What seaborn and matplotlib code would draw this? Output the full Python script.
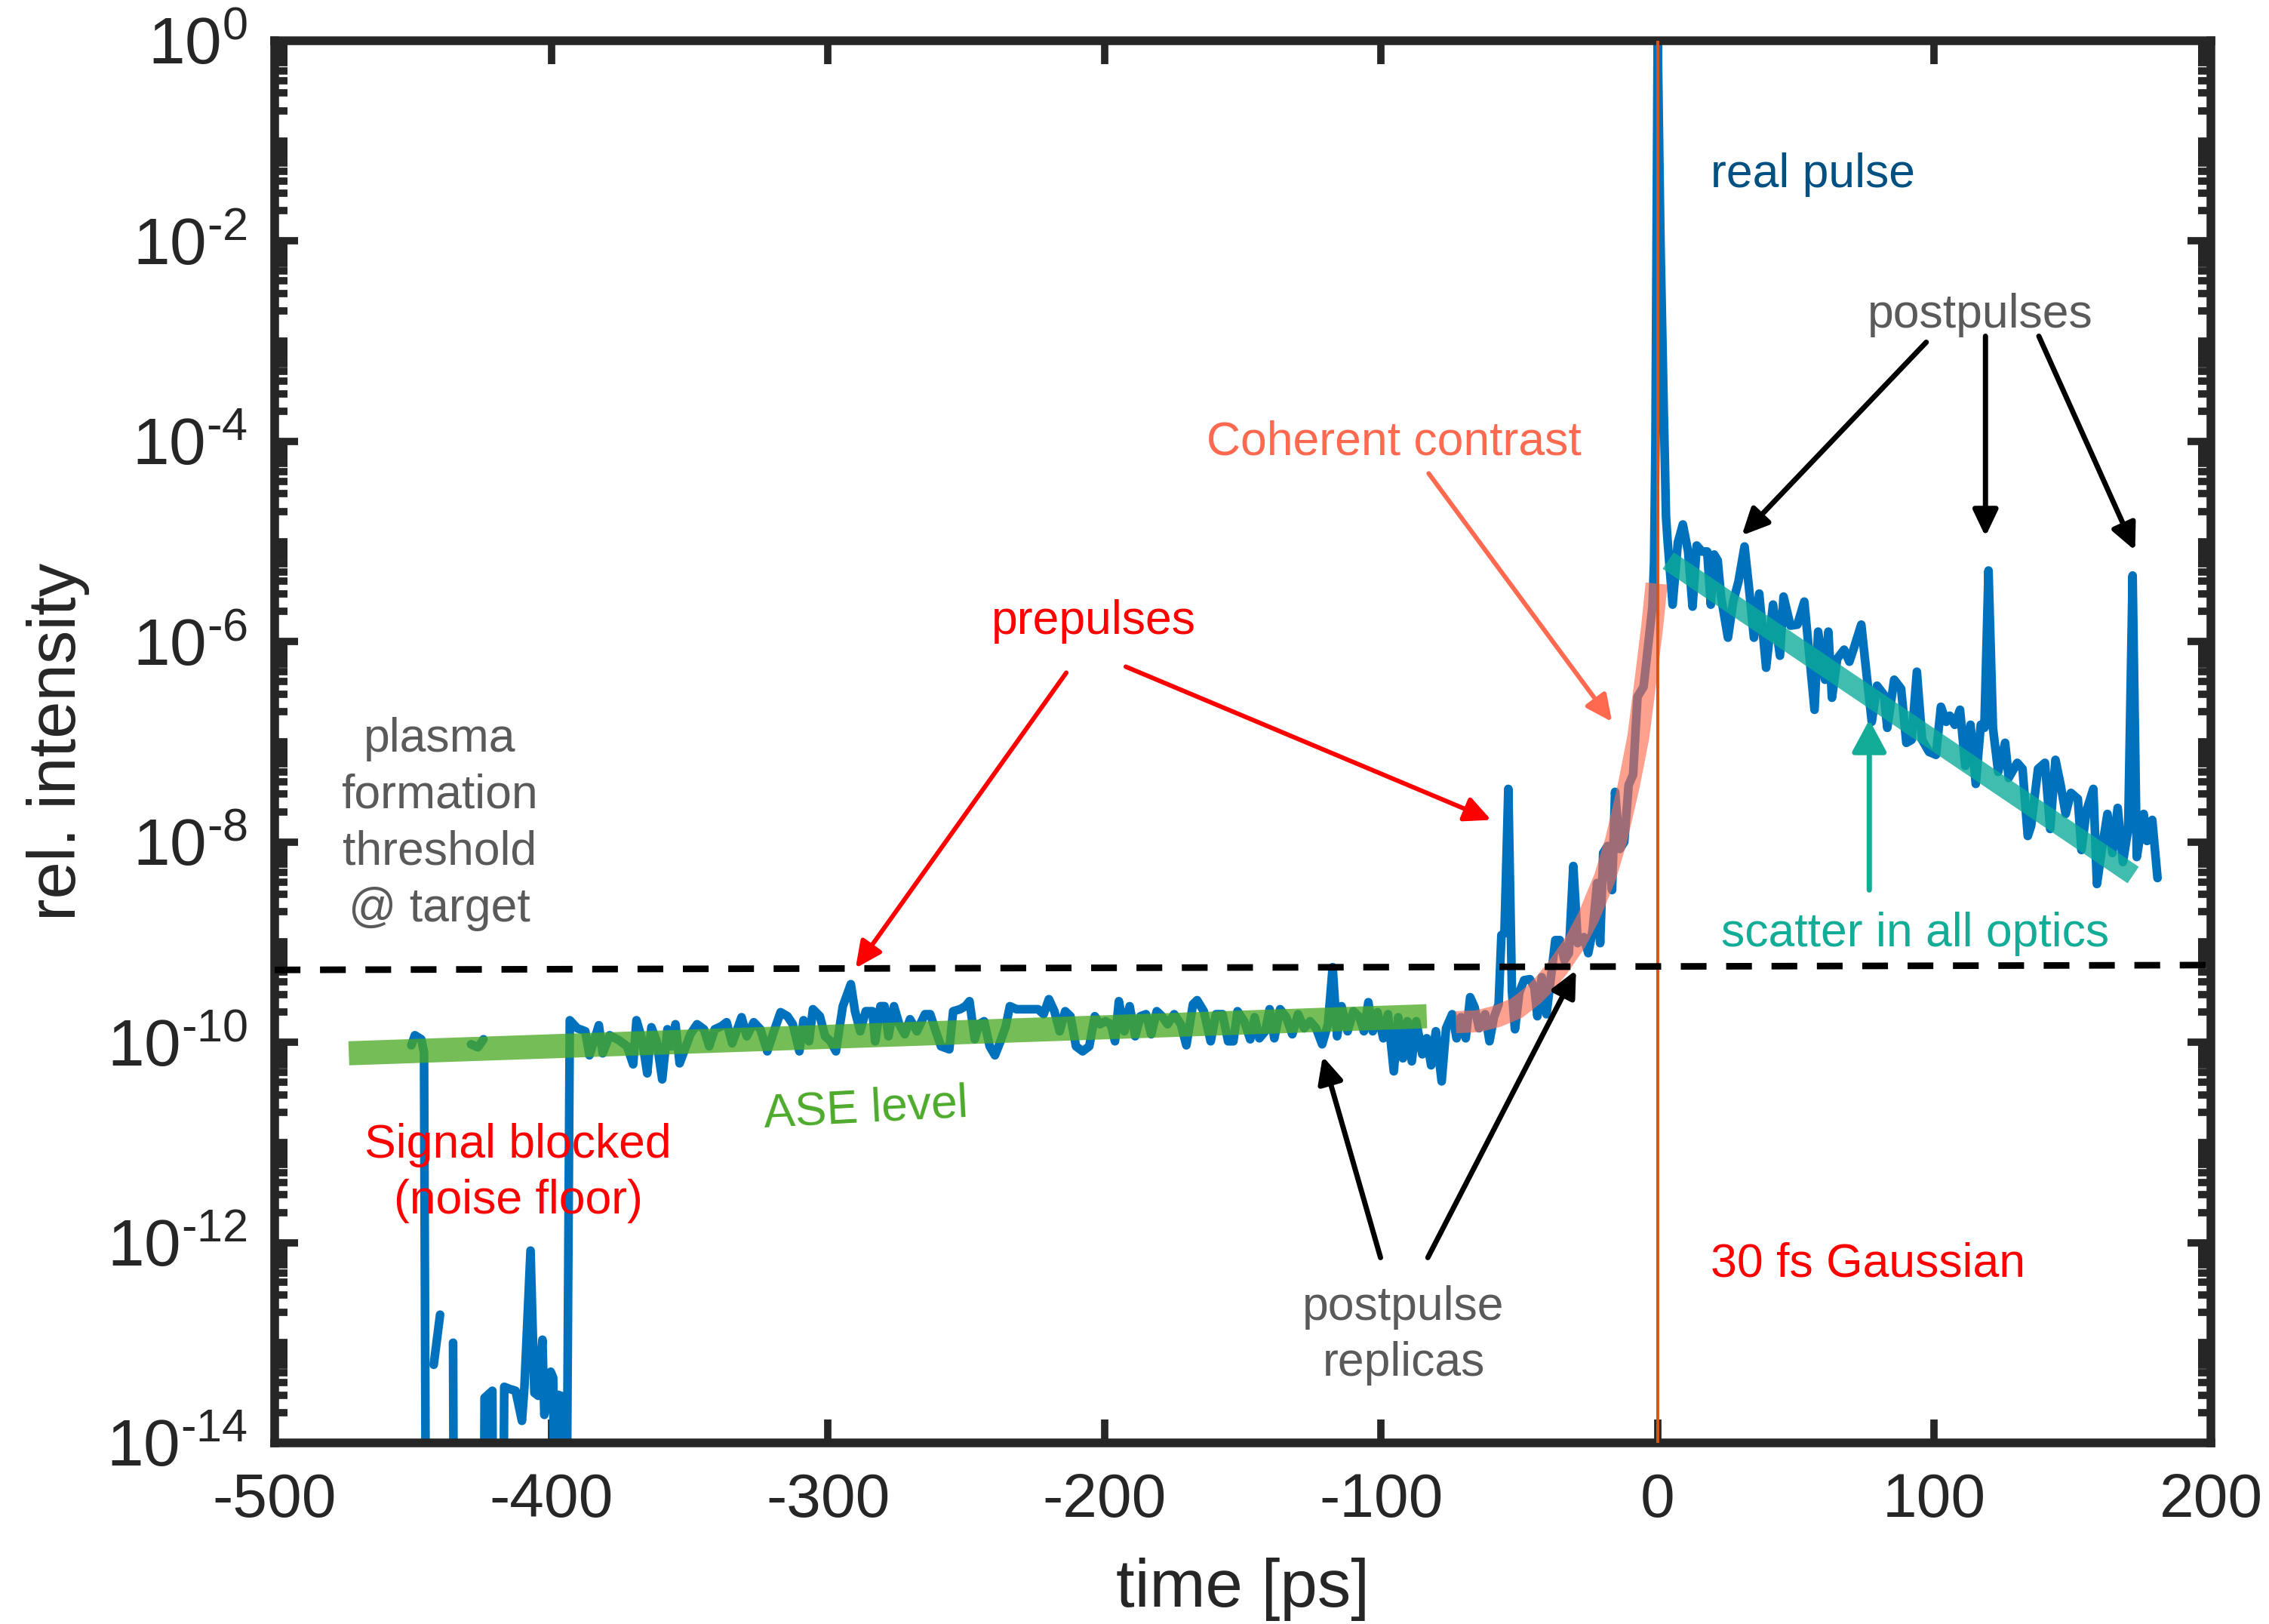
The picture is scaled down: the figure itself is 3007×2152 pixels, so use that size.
import numpy as np
import pandas as pd
import matplotlib
matplotlib.use("Agg")
import matplotlib.pyplot as plt
import seaborn as sns
from matplotlib.ticker import FixedLocator, NullFormatter, NullLocator

# ---------------- data ----------------
# measured trace: time [ps] and log10(rel. intensity); -16 = below plotted range
start_t = [-450.6, -449.3, -447.0, -446.0, -445.2]
start_lg = [-10.03, -9.93, -9.97, -10.10, -16.0]

floor_a_t = [-442.5, -440.2]
floor_a_lg = [-13.22, -12.72]
floor_b_t = [-435.5, -435.1]
floor_b_lg = [-13.00, -16.0]
islet_t = [-429.0, -426.5, -424.5]
islet_lg = [-10.02, -10.05, -9.97]
floor_c_t = [-424.6, -424.1, -421.3, -420.9]
floor_c_lg = [-16.0, -13.55, -13.48, -16.0]

floor_d_t = [-417.6, -417.0, -415.2, -412.9, -410.6, -409.7, -407.5, -406.1, -404.7,
             -403.2, -402.5, -400.2, -399.3, -398.5, -397.5, -396.5, -394.7]
floor_d_lg = [-16.0, -13.44, -13.46, -13.48, -13.78, -13.44, -12.08, -13.50, -13.53,
              -12.97, -13.72, -13.29, -13.35, -16.0, -13.52, -13.53, -16.0]

ase_a_t = [-393.3, -390.6, -387.7, -386.2, -382.8, -381.4, -378.9, -375.5, -372.6, -370.4,
           -369.2, -367.2, -365.3, -363.8, -361.9, -359.9, -358.0, -356.5, -355.1, -353.6,
           -351.7, -349.7, -347.3, -344.8, -342.9, -340.9, -338.5, -336.6, -334.6, -331.2,
           -329.3, -326.8, -324.4, -321.9, -319.5, -317.1, -314.6, -312.7, -310.3, -308.8,
           -306.8, -305.4, -302.9, -301.0]
ase_a_lg = [-9.78, -9.86, -9.89, -10.13, -9.83, -10.11, -9.93, -9.98, -10.04, -10.22,
            -9.78, -9.97, -10.31, -9.85, -9.99, -10.37, -9.87, -10.04, -9.82, -10.21,
            -10.07, -9.92, -9.82, -9.87, -10.04, -9.87, -9.84, -9.80, -10.01, -9.75,
            -9.94, -9.80, -9.87, -10.09, -9.89, -9.70, -9.74, -9.82, -10.09, -9.78,
            -9.99, -9.67, -9.74, -9.94]

ase_b_t = [-299.0, -297.1, -294.6, -291.7, -290.2, -288.3, -286.3, -283.9, -282.9, -281.0,
           -279.5, -278.1, -276.1, -274.2, -272.2, -270.3, -267.8, -264.9, -263.0, -261.0,
           -259.1, -256.1, -254.7, -252.2, -250.3, -248.8, -246.9, -245.4, -243.5, -241.5,
           -239.6, -237.6, -235.7, -234.2, -231.8, -228.9, -226.4, -224.0, -222.0, -220.1,
           -218.1, -216.2, -214.2, -212.3, -210.3, -207.9, -205.5, -203.5, -201.6, -199.6,
           -197.7, -196.2, -194.8, -192.8, -190.9, -188.9, -187.0, -185.0, -183.1, -181.1,
           -179.2, -177.2, -174.8, -172.4, -170.4, -168.0, -166.5, -164.1, -161.6, -159.7,
           -157.3, -155.3, -153.4, -151.9, -149.5]
ase_b_lg = [-9.99, -10.09, -9.64, -9.42, -9.69, -9.89, -9.69, -9.69, -9.99, -9.64,
            -9.64, -9.94, -9.64, -9.82, -9.92, -9.77, -9.89, -9.72, -9.72, -9.89,
            -10.04, -10.07, -9.69, -9.67, -9.64, -9.59, -9.97, -9.82, -9.79, -10.04,
            -10.13, -9.99, -9.84, -9.64, -9.67, -9.67, -9.67, -9.67, -9.72, -9.57,
            -9.69, -9.89, -9.69, -9.74, -10.04, -10.09, -10.04, -9.74, -9.82, -9.79,
            -9.82, -9.99, -9.59, -9.89, -9.64, -9.94, -9.74, -9.72, -9.92, -9.69,
            -9.74, -9.82, -9.72, -9.82, -10.03, -9.62, -9.58, -9.69, -9.99, -9.72,
            -9.72, -9.99, -9.99, -9.69, -9.79]

rise_t = [-147.3, -145.7, -144.0, -141.9, -140.3, -138.6, -136.5, -134.3, -132.1, -130.0,
          -127.8, -125.7, -123.5, -121.3, -119.2, -117.5, -115.9, -114.3, -112.1, -110.0,
          -107.8, -106.2, -104.6, -103.0, -101.3, -99.2, -97.5, -95.4, -93.8, -92.1,
          -90.5, -88.9, -87.3, -85.1, -83.5, -81.9, -80.2, -78.1, -76.5, -74.3,
          -72.7, -71.1, -69.4, -67.8, -66.2, -64.6, -62.4, -60.8, -59.2, -57.5,
          -56.5, -55.4, -54.0, -52.7, -51.6, -50.0, -48.3, -46.2, -44.6, -43.5,
          -41.9, -40.2, -38.6, -37.0, -35.4, -33.7, -32.1, -30.5, -28.9, -26.7,
          -25.1, -23.5, -21.9, -20.8, -19.7, -18.1, -16.5, -15.4, -13.7, -12.1,
          -10.5, -8.9, -7.3, -5.1, -3.5, -1.9, -1.3, -0.8]
rise_lg = [-9.97, -9.75, -9.96, -9.89, -9.67, -9.96, -9.67, -9.75, -9.92, -9.72,
           -9.86, -9.79, -9.86, -10.02, -9.82, -9.25, -9.94, -9.64, -9.89, -9.69,
           -9.75, -9.89, -9.60, -9.89, -9.70, -9.96, -9.72, -10.29, -9.75, -10.16,
           -9.79, -10.19, -9.79, -10.12, -9.96, -10.23, -9.89, -10.39, -9.86, -9.72,
           -9.96, -9.75, -9.96, -9.55, -9.65, -9.86, -9.72, -9.99, -9.75, -9.62,
           -8.93, -8.91, -7.47, -9.49, -9.87, -9.50, -9.38, -9.37, -9.45, -9.74,
           -9.35, -9.72, -9.35, -8.98, -8.98, -9.18, -9.11, -8.24, -9.01, -8.95,
           -9.11, -8.88, -8.41, -9.01, -8.11, -8.04, -8.48, -7.50, -8.07, -8.00,
           -7.43, -7.33, -6.55, -6.45, -6.05, -5.65, -5.20, -4.00]

post_t = [0.0, 1.0, 2.2, 2.6, 3.0, 3.6, 5.4, 7.3, 9.1,
          11.0, 12.6, 14.1, 16.0, 17.9, 19.2, 20.4, 21.7, 22.9, 25.4,
          27.3, 29.2, 31.4, 33.0, 34.8, 36.7, 39.2, 41.7, 44.2, 45.5,
          48.0, 50.5, 53.0, 56.7, 58.0, 60.5, 61.7, 63.0, 64.9, 67.4,
          69.3, 71.1, 73.6, 75.5, 77.4, 79.3, 81.8, 83.0, 85.5, 88.0,
          89.9, 91.8, 93.7, 95.6, 98.1, 100.6, 102.4, 104.3, 105.6, 107.4,
          109.3, 111.2, 113.1, 115.0, 116.8, 118.1, 119.6, 121.2, 123.1, 125.6,
          126.9, 130.0, 131.9, 133.8, 135.0, 137.5, 140.0, 141.9, 143.8, 145.6,
          147.5, 149.4, 151.9, 153.2, 155.0, 157.5, 158.8, 160.7, 162.6, 164.4,
          166.3, 168.2, 170.1, 171.7, 173.2, 175.7, 176.9, 178.8, 180.7]
post_lg = [0.0, -2.0, -3.7, -4.2, -4.75, -5.0, -5.63, -5.01, -4.83,
           -5.10, -5.65, -5.04, -5.10, -5.10, -5.63, -5.13, -5.19, -5.55, -5.96,
           -5.60, -5.40, -5.05, -5.46, -5.96, -5.52, -6.26, -5.63, -6.14, -5.55,
           -5.84, -5.83, -5.60, -6.68, -5.90, -6.38, -5.90, -6.56, -6.17, -6.08,
           -6.20, -6.05, -5.83, -6.32, -6.80, -6.44, -6.53, -6.86, -6.38, -6.47,
           -7.01, -6.98, -6.30, -6.98, -7.10, -7.13, -6.65, -6.80, -6.74, -6.83,
           -6.68, -7.24, -6.83, -7.42, -6.83, -6.86, -5.29, -6.86, -7.30, -7.01,
           -7.36, -7.21, -7.27, -7.94, -7.84, -7.27, -7.21, -7.87, -7.18, -7.42,
           -7.72, -7.51, -7.57, -8.08, -7.69, -7.47, -8.42, -8.05, -7.72, -8.11,
           -7.66, -8.20, -7.87, -5.34, -8.15, -7.72, -7.99, -7.78, -8.36]

# guide curves
ase_fit_t = [-473.2, -83.5]
ase_fit_lg = [-10.11, -9.74]
scatter_fit_t = [3.8, 171.9]
scatter_fit_lg = [-5.19, -8.33]
coherent_t = [-73.0, -65.0, -58.0, -51.0, -45.0, -41.0, -36.0, -30.0, -25.0, -19.0,
              -15.0, -10.4, -7.0, -4.0, -2.0, -0.4]
coherent_lg = [-9.80, -9.79, -9.74, -9.66, -9.53, -9.42, -9.25, -9.01, -8.75, -8.35,
               -7.98, -7.43, -6.95, -6.30, -5.85, -5.42]
gauss_t = [-0.05, 0.0, 0.05]
gauss_I = [1e-16, 1.0, 1e-16]
threshold_t = [-500.0, 200.0]
threshold_I = [5.28e-10, 5.90e-10]

x_ticks = [-500, -400, -300, -200, -100, 0, 100, 200]
y_exps = [-14, -12, -10, -8, -6, -4, -2, 0]

# ---------------- style ----------------
sns.set_theme(style="ticks")
plt.rcParams["font.family"] = ["Liberation Sans", "DejaVu Sans"]
plt.rcParams["mathtext.fontset"] = "custom"
plt.rcParams["mathtext.rm"] = "Liberation Sans"
plt.rcParams["mathtext.it"] = "Liberation Sans:italic"
plt.rcParams["mathtext.bf"] = "Liberation Sans:bold"
plt.rcParams["mathtext.default"] = "regular"
plt.rcParams["axes.unicode_minus"] = False

W, H = 3007, 2152
fig = plt.figure(figsize=(W / 100, H / 100), dpi=100)
L, R, T, B = 364, 2930, 54, 1912
ax = fig.add_axes([L / W, 1 - B / H, (R - L) / W, (B - T) / H])
ax.set_yscale("log")
ax.set_xlim(-500, 200)
ax.set_ylim(1e-14, 1)

# ---------------- measured trace ----------------
segments = [
    (start_t, start_lg),
    (floor_a_t, floor_a_lg),
    (floor_b_t, floor_b_lg),
    (islet_t, islet_lg),
    (floor_c_t, floor_c_lg),
    (floor_d_t + ase_a_t + ase_b_t + rise_t + post_t,
     floor_d_lg + ase_a_lg + ase_b_lg + rise_lg + post_lg),
]
rows = []
for k, (tt, ll) in enumerate(segments):
    for t, l in zip(tt, ll):
        rows.append((k, t, l))
df = pd.DataFrame(rows, columns=["seg", "t", "lg"])
df["I"] = 10.0 ** df["lg"]

sns.lineplot(data=df, x="t", y="I", units="seg", estimator=None, sort=False,
             color="#0072BD", linewidth=8.3, ax=ax, legend=False,
             solid_joinstyle="round", solid_capstyle="round", zorder=2)

# ---------------- guide bands ----------------
sns.lineplot(x=ase_fit_t, y=10.0 ** np.array(ase_fit_lg), color="#4AA922", alpha=0.76,
             linewidth=23, solid_capstyle="butt", ax=ax, zorder=3)
sns.lineplot(x=coherent_t, y=10.0 ** np.array(coherent_lg), color="#FC694D", alpha=0.63,
             linewidth=21, solid_capstyle="butt", solid_joinstyle="round", ax=ax, zorder=3)
sns.lineplot(x=scatter_fit_t, y=10.0 ** np.array(scatter_fit_lg), color="#0DAC98", alpha=0.79,
             linewidth=19, solid_capstyle="butt", ax=ax, zorder=3)
sns.lineplot(x=gauss_t, y=gauss_I, estimator=None, sort=False, color="#D95319",
             linewidth=2.3, ax=ax, zorder=4)
sns.lineplot(x=threshold_t, y=threshold_I, color="black", linewidth=6.3,
             linestyle=(0, (3.9, 2.97)), ax=ax, zorder=5)

# ---------------- annotations ----------------
FS = 45
GRAY = "#5A5A5A"


def txt(x, lg, s, color, ha="center", **kw):
    ax.text(x, 10.0 ** lg, s, color=color, fontsize=FS, ha=ha, va="baseline", zorder=7, **kw)


txt(19.2, -1.46, "real pulse", "#005082", ha="left")
txt(116.6, -2.86, "postpulses", GRAY)
txt(-27.5, -4.13, "Coherent contrast", "#FF6950", ha="right")
txt(-203.8, -5.92, "prepulses", "#FF0000")
for s, lg in zip(["plasma", "formation", "threshold", "@ target"],
                 [-7.098, -7.662, -8.226, -8.79]):
    txt(-440.3, lg, s, GRAY)
txt(-412.0, -11.15, "Signal blocked", "#FF0000")
txt(-412.0, -11.71, "(noise floor)", "#FF0000")
txt(-286.1, -10.79, "ASE level", "#4DAA2B", rotation=3, rotation_mode="anchor")
txt(-91.9, -12.77, "postpulse", GRAY)
txt(-91.9, -13.33, "replicas", GRAY)
txt(19.2, -12.34, "30 fs Gaussian", "#FF0000", ha="left")
txt(22.9, -9.04, "scatter in all optics", "#13AD97", ha="left")


def arrow(p0, p1, color, lw=5.0, hl=21, hw=10):
    ax.annotate("", xy=(p1[0], 10.0 ** p1[1]), xytext=(p0[0], 10.0 ** p0[1]),
                arrowprops=dict(arrowstyle=f"-|>,head_length={hl},head_width={hw}",
                                color=color, lw=lw, shrinkA=0, shrinkB=0,
                                mutation_scale=1),
                zorder=6)


arrow((-213.8, -6.31), (-290.0, -9.26), "#FF0000", lw=4.3)
arrow((-192.3, -6.25), (-60.2, -7.78), "#FF0000", lw=4.3)
arrow((-82.8, -4.32), (-16.5, -6.80), "#FF6950", lw=4.3)
arrow((97.1, -3.01), (30.4, -4.94), "black")
arrow((118.5, -2.95), (118.5, -4.95), "black")
arrow((137.8, -2.95), (172.6, -5.09), "black")
arrow((-100.2, -12.15), (-121.1, -10.14), "black")
arrow((-83.1, -12.15), (-29.5, -9.28), "black")
arrow((76.5, -8.48), (76.5, -6.78), "#13AD97", hl=26, hw=14)

# ---------------- axes styling ----------------
DARK = "#262626"
for sp in ax.spines.values():
    sp.set_linewidth(8.3)
    sp.set_color(DARK)
    sp.set_visible(True)

ax.set_xticks(x_ticks)
ax.xaxis.set_minor_locator(NullLocator())
ax.yaxis.set_major_locator(FixedLocator([10.0 ** e for e in y_exps]))
ax.yaxis.set_minor_locator(FixedLocator(
    [k * 10.0 ** n for n in range(-14, 0) for k in range(1, 10) if not (k == 1 and n % 2 == 0)]))
ax.set_yticklabels([f"$10^{{{str(e).replace('-', chr(0x2010))}}}$" for e in y_exps])
ax.yaxis.set_minor_formatter(NullFormatter())
ax.tick_params(which="both", direction="in", top=True, right=True, width=7, color=DARK)
ax.tick_params(which="major", length=22, labelsize=59, labelcolor=DARK)
ax.tick_params(which="minor", length=12)
ax.tick_params(axis="y", which="major", pad=26, labelsize=63)
ax.tick_params(axis="x", which="major", pad=28)

ax.set_xlabel("time [ps]", fontsize=64, color=DARK)
ax.xaxis.set_label_coords(0.5, -0.082)
ax.set_ylabel("rel. intensity", fontsize=64, color=DARK)
ax.yaxis.set_label_coords(-0.0955, 0.5)

fig.savefig("out.png", dpi=100)
